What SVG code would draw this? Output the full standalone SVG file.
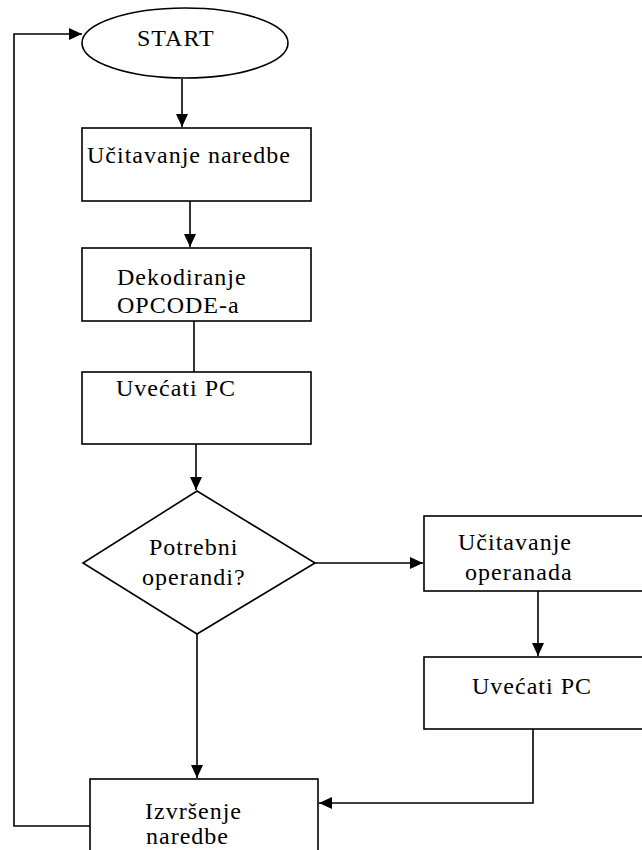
<svg xmlns="http://www.w3.org/2000/svg" width="642" height="850" viewBox="0 0 642 850">
<defs>
<style>
.shape{fill:#fff;stroke:#000;stroke-width:1.6}
.conn{fill:none;stroke:#000;stroke-width:1.6}
text{font-family:"Liberation Serif","Times New Roman",serif;font-size:24px;letter-spacing:1px;fill:#000}
</style>
<marker id="arr" markerUnits="userSpaceOnUse" markerWidth="14" markerHeight="12" refX="13" refY="6" orient="auto">
<path d="M0,0 L13,6 L0,12 z" fill="#000"/>
</marker>
</defs>
<rect width="642" height="850" fill="#fff"/>
<g id="connectors">
<path class="conn" d="M182,79 V127" marker-end="url(#arr)"/>
<path class="conn" d="M190,201 V247" marker-end="url(#arr)"/>
<path class="conn" d="M194,321 V372"/>
<path class="conn" d="M196,444 V490" marker-end="url(#arr)"/>
<path class="conn" d="M315,563 H423" marker-end="url(#arr)"/>
<path class="conn" d="M538,591 V656" marker-end="url(#arr)"/>
<path class="conn" d="M197,634 V778" marker-end="url(#arr)"/>
<path class="conn" d="M533,729 V803 H319" marker-end="url(#arr)"/>
<path class="conn" d="M90,826 H14 V34 H82" marker-end="url(#arr)"/>
</g>
<g id="start">
<ellipse class="shape" cx="185" cy="43" rx="103" ry="35"/>
<text x="137" y="46">START</text>
</g>
<g id="ucitavanje-naredbe">
<rect class="shape" x="82" y="128" width="229" height="73"/>
<text x="87" y="163">Učitavanje naredbe</text>
</g>
<g id="dekodiranje">
<rect class="shape" x="82" y="248" width="229" height="73"/>
<text x="117" y="285">Dekodiranje</text>
<text x="117" y="313">OPCODE-a</text>
</g>
<g id="uvecati-pc-1">
<rect class="shape" x="82" y="372" width="229" height="72"/>
<text x="116" y="396">Uvećati PC</text>
</g>
<g id="potrebni-operandi">
<polygon class="shape" points="197,491 315,563 197,634 83,563"/>
<text x="149" y="555">Potrebni</text>
<text x="142" y="585">operandi?</text>
</g>
<g id="ucitavanje-operanada">
<rect class="shape" x="424" y="516" width="222" height="75"/>
<text x="458" y="550">Učitavanje</text>
<text x="465" y="580">operanada</text>
</g>
<g id="uvecati-pc-2">
<rect class="shape" x="424" y="657" width="222" height="72"/>
<text x="472" y="694">Uvećati PC</text>
</g>
<g id="izvrsenje">
<rect class="shape" x="90" y="779" width="228" height="80"/>
<text x="145" y="819">Izvršenje</text>
<text x="146" y="844">naredbe</text>
</g>
</svg>
